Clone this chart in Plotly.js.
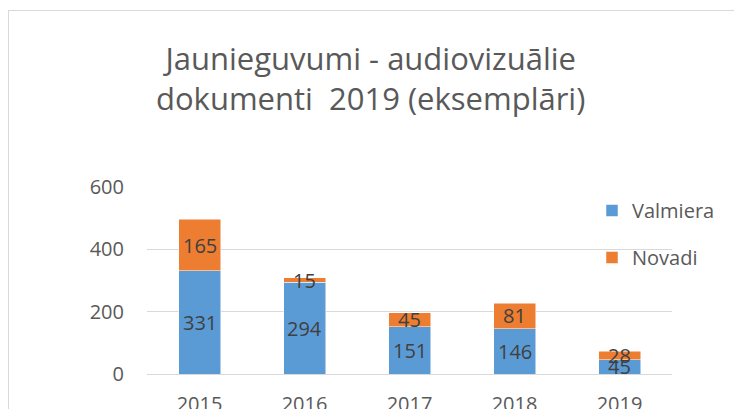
<!DOCTYPE html>
<html>
<head>
<meta charset="utf-8">
<script src="https://cdn.plot.ly/plotly-3.0.1.min.js"></script>
<style>
  html, body { margin: 0; padding: 0; background: #fff; overflow: hidden; }
  #wrap { position: relative; width: 734px; height: 409px; }
  #chart { width: 734px; height: 409px; }
  #frame { position: absolute; left: 8px; top: 10px; width: 800px; height: 500px;
           border: 1px solid #D9D9D9; pointer-events: none; box-sizing: border-box; }
</style>
</head>
<body>
<div id="wrap">
  <div id="chart"></div>
  <div id="frame"></div>
</div>
<script>
const years = ["2015", "2016", "2017", "2018", "2019"];
const valmiera = [331, 294, 151, 146, 45];
const novadi = [165, 15, 45, 81, 28];
const seriesNames = ["Valmiera", "Novadi"];
const titleText = "Jaunieguvumi - audiovizuālie<br>dokumenti  2019 (eksemplāri)";
const yTicks = [0, 200, 400, 600];

const font = "'Open Sans', 'Liberation Sans', sans-serif";
const textColor = "#595959";
const labelColor = "#404040";

const traces = [
  { type: "bar", x: years, y: valmiera, name: seriesNames[0], legendgroup: "a",
    marker: { color: "#5B9BD5", line: { color: "#FFFFFF", width: 0.5 } }, hoverinfo: "skip" },
  { type: "bar", x: years, y: novadi, name: seriesNames[1], legendgroup: "b",
    marker: { color: "#ED7D31", line: { color: "#FFFFFF", width: 0.5 } }, hoverinfo: "skip" }
];

const annotations = [];
years.forEach((yr, i) => {
  annotations.push({ x: i, y: valmiera[i] / 2, xref: "x", yref: "y", text: String(valmiera[i]),
    showarrow: false, font: { family: font, size: 20, color: labelColor } });
  annotations.push({ x: i, y: valmiera[i] + novadi[i] / 2, xref: "x", yref: "y", text: String(novadi[i]),
    showarrow: false, font: { family: font, size: 20, color: labelColor } });
});

const layout = {
  width: 734, height: 409,
  margin: { l: 147, r: 62, t: 187, b: 35 },
  paper_bgcolor: "#FFFFFF", plot_bgcolor: "#FFFFFF",
  font: { family: font, color: textColor, size: 20 },
  title: { text: titleText, x: 0.505, xanchor: "center", y: 0.829, yanchor: "top",
           yref: "container", font: { family: font, size: 31, color: textColor } },
  barmode: "stack",
  bargap: 0.6,
  xaxis: { type: "category", range: [-0.5, 4.5], autorange: false, showgrid: false, zeroline: false,
           showline: false, ticks: "", tickfont: { size: 20, color: textColor }, ticklabelstandoff: 16,
           fixedrange: true },
  yaxis: { range: [0, 600], autorange: false, tickvals: yTicks, showgrid: true, gridcolor: "#D9D9D9", gridwidth: 1,
           zeroline: true, zerolinecolor: "#D9D9D9", zerolinewidth: 1, showline: false, ticks: "",
           tickfont: { size: 20, color: textColor }, ticklabelstandoff: 22, fixedrange: true },
  legend: { x: (592 - 147) / 525, xanchor: "left", y: 1.0 - 4 / 187, yanchor: "top", traceorder: "grouped",
            tracegroupgap: 18, font: { size: 20, color: textColor }, bgcolor: "rgba(0,0,0,0)" },
  annotations: annotations,
  showlegend: true
};

Plotly.newPlot("chart", traces, layout, { displayModeBar: false, staticPlot: true });
</script>
</body>
</html>
